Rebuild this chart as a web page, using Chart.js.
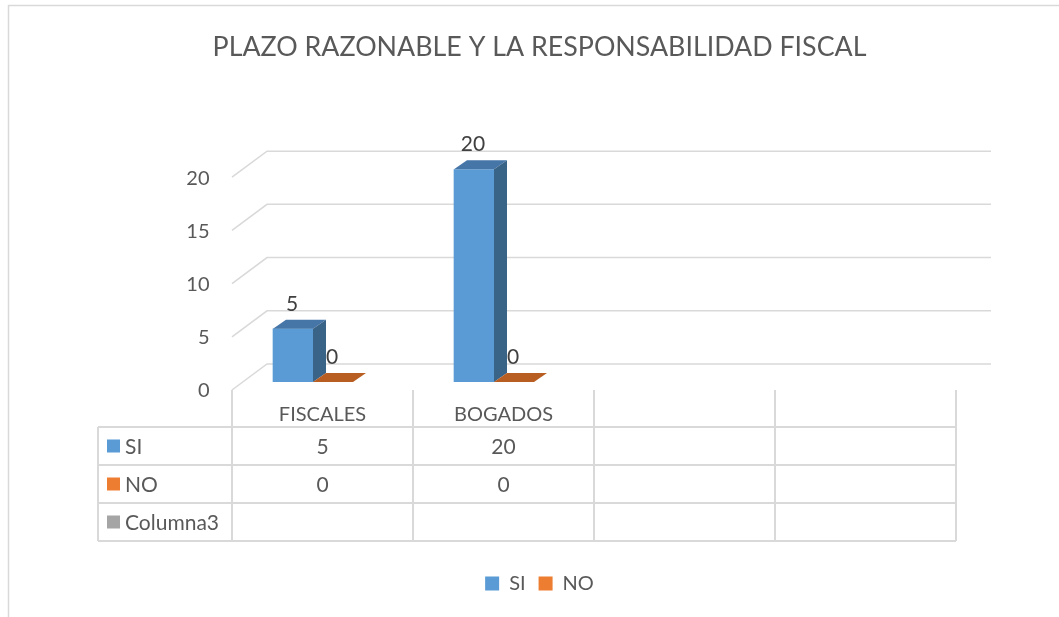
<!DOCTYPE html>
<html><head><meta charset="utf-8">
<script src="https://cdn.jsdelivr.net/npm/chart.js@4"></script>
<style>html,body{margin:0;padding:0;background:#fff;overflow:hidden}</style>
</head><body>
<canvas id="c" width="1059" height="617"></canvas>
<script>
const chartTitle = 'PLAZO RAZONABLE Y LA RESPONSABILIDAD FISCAL';
const categories = ['FISCALES', 'BOGADOS', '', ''];
const seriesNames = ['SI', 'NO', 'Columna3'];
const siValues = [5, 20, null, null];
const noValues = [0, 0, null, null];
const col3Values = [null, null, null, null];
const yTicks = [0, 5, 10, 15, 20];

const COLORS = ['#5B9BD5', '#ED7D31', '#A5A5A5'];
const TOPS = ['#4675A8', '#B85E22', '#808080'];
const SIDES = ['#3A6388', '#A44F1A', '#707070'];
const TEXT = '#595959';
const GRID = '#D9D9D9';
const FONT = 'Lato';
const DX = 13, DY = 9;          // bar depth
const FDX = 9.5, FDY = 8;       // front plane offset vs bar plane
const BDX = 35, BDY = -26;      // back wall offset vs front plane

const threeD = {
  id: 'threeD',
  beforeDraw(chart) {
    const ctx = chart.ctx;
    ctx.save();
    ctx.fillStyle = '#fff';
    ctx.fillRect(0, 0, chart.width, chart.height);
    ctx.strokeStyle = GRID; ctx.lineWidth = 1.5;
    ctx.strokeRect(8.5, 5.5, chart.width + 20, chart.height + 20);
    ctx.restore();
  },
  beforeDatasetsDraw(chart) {
    const {ctx, scales: {x, y}} = chart;
    const step = x.getPixelForValue(1) - x.getPixelForValue(0);
    const fL = x.getPixelForValue(0) - step / 2 + FDX;
    const fR = x.getPixelForValue(categories.length - 1) + step / 2 + FDX;
    ctx.save();
    ctx.strokeStyle = GRID; ctx.lineWidth = 1.5;
    yTicks.forEach(v => {
      const py = y.getPixelForValue(v) + FDY;
      ctx.beginPath();
      ctx.moveTo(fL, py);
      ctx.lineTo(fL + BDX, py + BDY);
      ctx.lineTo(fR + BDX, py + BDY);
      ctx.stroke();
    });
    ctx.restore();
  },
  afterDatasetsDraw(chart) {
    const ctx = chart.ctx;
    ctx.save();
    chart.data.datasets.forEach((ds, di) => {
      const meta = chart.getDatasetMeta(di);
      meta.data.forEach((bar, i) => {
        if (ds.data[i] === null || ds.data[i] === undefined) return;
        const l = bar.x - bar.width / 2, r = bar.x + bar.width / 2;
        const t = bar.y, b = bar.base;
        ctx.fillStyle = TOPS[di];
        ctx.beginPath();
        ctx.moveTo(l, t); ctx.lineTo(l + DX, t - DY); ctx.lineTo(r + DX, t - DY); ctx.lineTo(r, t);
        ctx.closePath(); ctx.fill();
        if (b - t > 0.5) {
          ctx.fillStyle = SIDES[di];
          ctx.beginPath();
          ctx.moveTo(r, t); ctx.lineTo(r + DX, t - DY); ctx.lineTo(r + DX, b - DY); ctx.lineTo(r, b);
          ctx.closePath(); ctx.fill();
        }
        ctx.fillStyle = '#404040';
        ctx.font = '21px ' + FONT;
        ctx.textAlign = 'center'; ctx.textBaseline = 'middle';
        ctx.fillText(String(ds.data[i]), bar.x - 1, t - 25);
      });
    });
    ctx.restore();
  },
  afterDraw(chart) {
    const {ctx, scales: {x, y}} = chart;
    const step = x.getPixelForValue(1) - x.getPixelForValue(0);
    const fL = x.getPixelForValue(0) - step / 2 + FDX;
    const fR = x.getPixelForValue(categories.length - 1) + step / 2 + FDX;
    const y0 = y.getPixelForValue(0) + FDY;
    const tTop = y0 + 37, rowH = 38;
    const tLeft = fL - 134;
    const rows = [siValues, noValues, col3Values];
    ctx.save();
    ctx.strokeStyle = GRID; ctx.lineWidth = 2;
    ctx.beginPath();
    for (let k = 0; k <= categories.length; k++) {
      ctx.moveTo(fL + k * step, y0); ctx.lineTo(fL + k * step, tTop + rowH * rows.length);
    }
    ctx.moveTo(tLeft, tTop); ctx.lineTo(tLeft, tTop + rowH * rows.length);
    for (let r = 0; r <= rows.length; r++) {
      ctx.moveTo(tLeft, tTop + r * rowH); ctx.lineTo(fR, tTop + r * rowH);
    }
    ctx.stroke();
    ctx.font = '21px ' + FONT;
    ctx.textBaseline = 'middle';
    rows.forEach((vals, r) => {
      const cy = tTop + r * rowH + rowH / 2;
      ctx.fillStyle = COLORS[r];
      ctx.fillRect(tLeft + 9, cy - 6.5, 13, 13);
      ctx.fillStyle = TEXT;
      ctx.textAlign = 'left';
      ctx.fillText(seriesNames[r], tLeft + 27, cy + 1);
      ctx.textAlign = 'center';
      vals.forEach((v, i) => {
        if (v === null || v === undefined) return;
        ctx.fillText(String(v), fL + step * (i + 0.5), cy + 1);
      });
    });
    ctx.restore();
  }
};

new Chart(document.getElementById('c'), {
  type: 'bar',
  data: {
    labels: categories,
    datasets: [
      {label: seriesNames[0], data: siValues, backgroundColor: COLORS[0], borderWidth: 0},
      {label: seriesNames[1], data: noValues, backgroundColor: COLORS[1], borderWidth: 0}
    ]
  },
  options: {
    responsive: false,
    animation: false,
    events: [],
    layout: {padding: {left: 20, right: 0, top: 0, bottom: 13.5}},
    datasets: {bar: {barThickness: 40}},
    scales: {
      x: {
        grid: {display: false, drawTicks: false},
        border: {display: false},
        ticks: {color: TEXT, font: {family: FONT, size: 20}, padding: 21, labelOffset: FDX, maxRotation: 0, autoSkip: false},
        afterFit(s) { s.height = 178.5; }
      },
      y: {
        min: 0, max: 20,
        grid: {display: false, drawTicks: false},
        border: {display: false},
        ticks: {stepSize: 5, color: TEXT, font: {family: FONT, size: 20}, padding: 13, labelOffset: 9},
        afterFit(s) { s.width = 202.5; }
      },
      yR: {
        position: 'right', display: true,
        grid: {display: false, drawTicks: false},
        border: {display: false},
        ticks: {display: false},
        afterFit(s) { s.width = 112.5; }
      }
    },
    plugins: {
      title: {display: true, text: chartTitle, color: TEXT, font: {family: FONT, size: 26.8, weight: 'normal'}, padding: {top: 31, bottom: 106}},
      legend: {
        position: 'bottom',
        labels: {color: TEXT, font: {family: FONT, size: 20}, boxWidth: 14, boxHeight: 14, padding: 13}
      },
      tooltip: {enabled: false}
    }
  },
  plugins: [threeD]
});
</script>
</body></html>
